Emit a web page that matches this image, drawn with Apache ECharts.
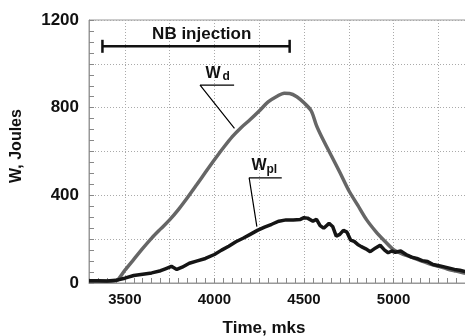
<!DOCTYPE html>
<html><head><meta charset="utf-8">
<script src="https://cdn.jsdelivr.net/npm/echarts@6/dist/echarts.min.js"></script>
<style>html,body{margin:0;padding:0;background:#fff}#c{width:465px;height:336px}</style>
</head><body><div id="c"></div>
<script>
const xTickLabels = [3500, 4000, 4500, 5000];
const yTickLabels = [0, 400, 800, 1200];

const wdTime   = [3300,3350,3400,3440,3460,3500,3550,3600,3650,3700,3750,3800,3850,3900,3950,4000,4050,4100,4150,4200,4250,4300,4350,4390,4420,4460,4500,4540,4570,4600,4650,4700,4750,4800,4850,4900,4950,5000,5050,5100,5150,5200,5250,5300,5350,5400];
const wdValues = [8,8,8,9,14,58,108,158,205,247,288,336,390,447,505,562,617,668,710,746,785,826,852,866,865,850,822,786,718,665,585,505,422,355,288,236,192,152,132,118,102,88,76,64,54,44];

const wplTime   = [3300,3350,3400,3450,3500,3550,3600,3650,3700,3730,3760,3790,3820,3860,3900,3950,4000,4040,4080,4120,4160,4200,4240,4280,4320,4360,4400,4440,4480,4500,4520,4550,4570,4590,4610,4640,4660,4680,4700,4720,4740,4760,4780,4800,4820,4845,4870,4900,4925,4950,4970,4990,5010,5040,5070,5100,5130,5160,5190,5220,5260,5300,5340,5370,5400];
const wplValues = [10,10,9,12,22,34,40,46,56,66,76,62,72,90,100,112,130,150,168,188,204,222,240,255,268,282,288,287,290,298,296,282,290,262,250,272,258,214,222,240,232,196,190,176,166,156,143,160,172,150,138,146,140,146,130,118,112,102,98,84,78,70,62,58,52];

const nbTime = [3375, 4420];
const nbLevel = 1080;
const wdPointerTime = [4112, 3920, 4110];
const wdPointerValues = [705, 903, 903];
const wplPointerTime = [4237, 4194, 4376];
const wplPointerValues = [257, 480, 480];

const zip = (a, b) => a.map((v, i) => [v, b[i]]);
const FONT = "'Liberation Sans', Arial, sans-serif";

const chart = echarts.init(document.getElementById('c'));
chart.setOption({
  animation: false,
  backgroundColor: '#fff',
  grid: { left: 89, right: -2, top: 20, bottom: 53, containLabel: false, outerBoundsMode: 'none',
          show: true, borderColor: '#999', borderWidth: 1 },
  xAxis: {
    type: 'value', min: 3300, max: 5410, minInterval: 250, maxInterval: 250,
    axisLine: { show: true, lineStyle: { color: '#999', width: 1 } },
    axisTick: { show: true, inside: true, length: 5, lineStyle: { color: '#888' } },
    minorTick: { show: true, splitNumber: 5, length: 5, lineStyle: { color: '#888' } },
    splitLine: { show: true, lineStyle: { color: '#aaa', type: [1, 2], width: 1 } },
    axisLabel: {
      margin: 9, fontFamily: FONT, fontWeight: 'bold', fontSize: 15, color: '#111',
      formatter: v => xTickLabels.includes(v) ? String(v) : ''
    },
    name: 'Time, mks', nameLocation: 'middle', nameGap: 37,
    nameTextStyle: { fontFamily: FONT, fontWeight: 'bold', fontSize: 17, color: '#111', padding: [0, 28, 0, 0] }
  },
  yAxis: {
    type: 'value', min: 0, max: 1200, interval: 200,
    axisLine: { show: true, lineStyle: { color: '#999', width: 1 } },
    axisTick: { show: true, inside: true, length: 5, lineStyle: { color: '#888' } },
    minorTick: { show: true, splitNumber: 4, length: 5, lineStyle: { color: '#888' } },
    splitLine: { show: true, lineStyle: { color: '#aaa', type: [1, 2], width: 1 } },
    axisLabel: {
      margin: 10, fontFamily: FONT, fontWeight: 'bold', fontSize: 17, color: '#111',
      formatter: v => yTickLabels.includes(v) ? String(v) : ''
    },
    name: 'W, Joules', nameLocation: 'middle', nameGap: 64,
    nameTextStyle: { fontFamily: FONT, fontWeight: 'bold', fontSize: 16, color: '#111', padding: [0, 0, 0, 11] }
  },
  series: [
    { type: 'line', data: zip(wdTime, wdValues), showSymbol: false, symbol: 'none', smooth: 0.3,
      lineStyle: { color: '#666', width: 3.5 }, z: 3 },
    { type: 'line', data: zip(wplTime, wplValues), showSymbol: false, symbol: 'none',
      lineStyle: { color: '#151515', width: 3.5 }, z: 4 },
    { type: 'line', data: nbTime.map(t => [t, nbLevel]), symbol: 'rect', symbolSize: [2.5, 13],
      itemStyle: { color: '#111' }, lineStyle: { color: '#111', width: 2.5 }, z: 5 },
    { type: 'line', data: zip(wdPointerTime, wdPointerValues), symbol: 'none',
      lineStyle: { color: '#000', width: 1.2 }, z: 5 },
    { type: 'line', data: zip(wplPointerTime, wplPointerValues), symbol: 'none',
      lineStyle: { color: '#000', width: 1.2 }, z: 5 }
  ],
  graphic: [
    { type: 'text', x: 201.7, y: 34.5, style: { text: 'NB injection', font: "bold 17px " + FONT, fill: '#111', align: 'center', verticalAlign: 'middle' }, z: 10 },
    { type: 'text', x: 205.5, y: 73.7, style: { text: 'W', font: "bold 16px " + FONT, fill: '#111', align: 'left', verticalAlign: 'middle' }, z: 10 },
    { type: 'text', x: 222.5, y: 76.8, style: { text: 'd', font: "bold 12px " + FONT, fill: '#111', align: 'left', verticalAlign: 'middle' }, z: 10 },
    { type: 'text', x: 251.5, y: 166, style: { text: 'W', font: "bold 16px " + FONT, fill: '#111', align: 'left', verticalAlign: 'middle' }, z: 10 },
    { type: 'text', x: 266.5, y: 169.5, style: { text: 'pl', font: "bold 12px " + FONT, fill: '#111', align: 'left', verticalAlign: 'middle' }, z: 10 }
  ]
});
</script>
</body></html>
